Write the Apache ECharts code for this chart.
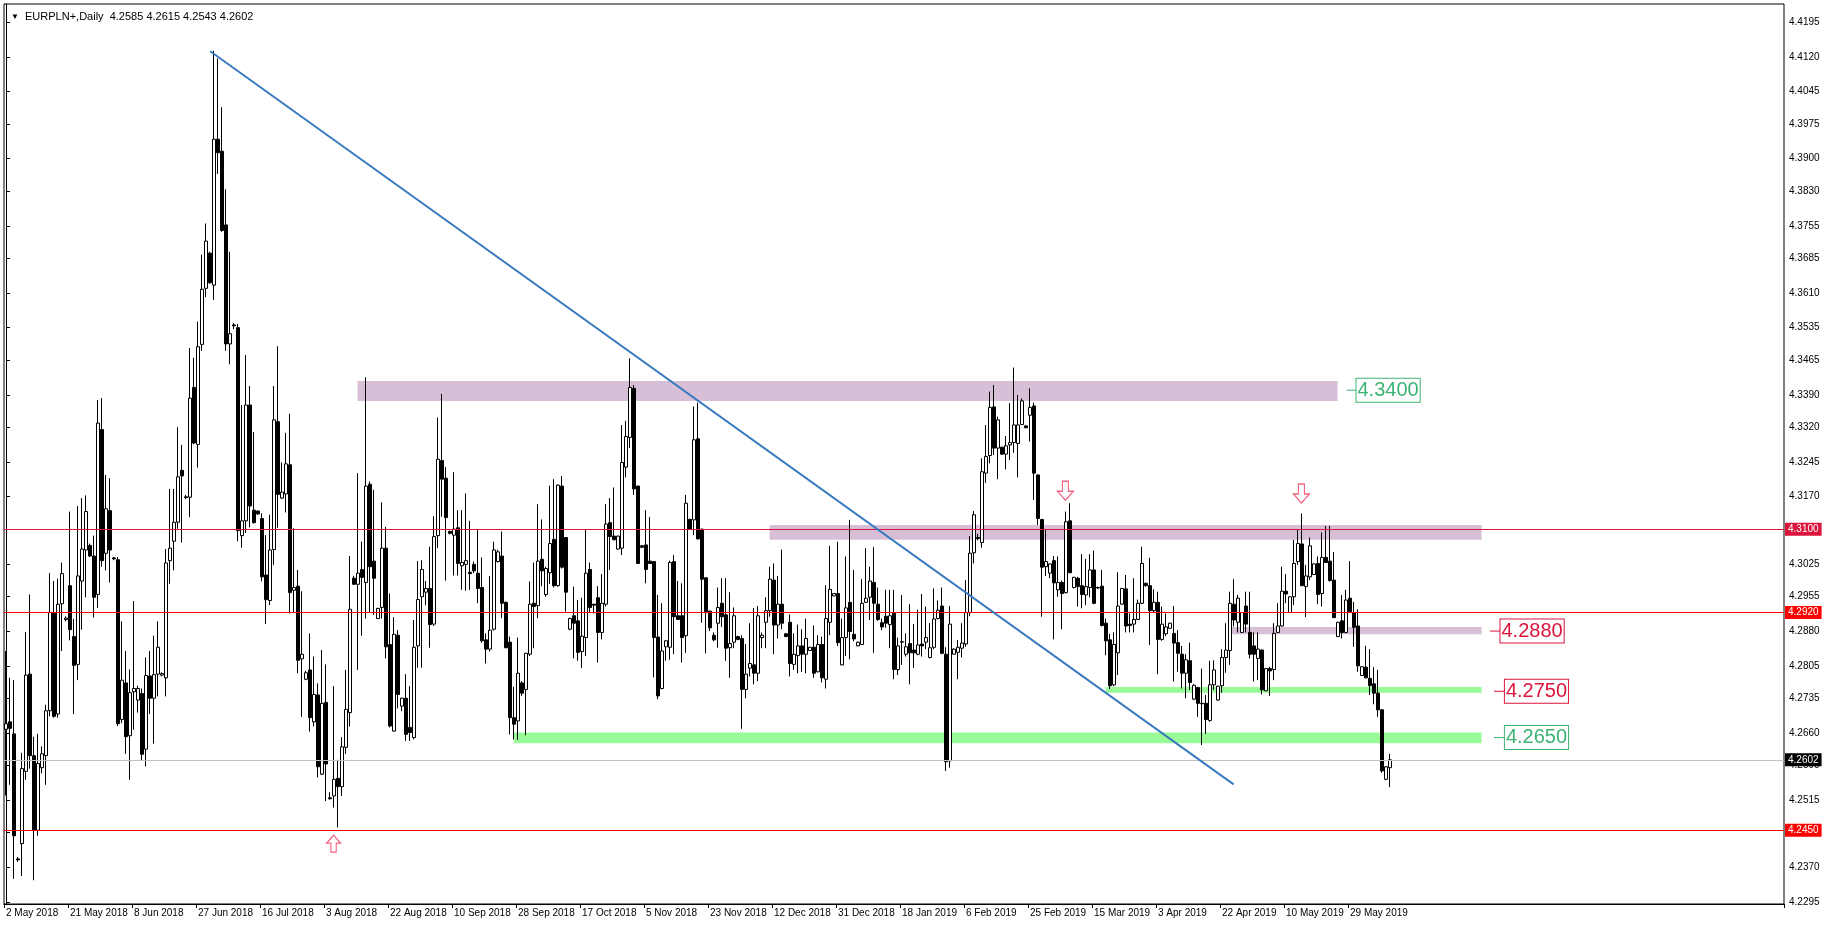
<!DOCTYPE html>
<html><head><meta charset="utf-8">
<script src="https://cdn.jsdelivr.net/npm/echarts@6/dist/echarts.min.js"></script>
<style>html,body{margin:0;padding:0;background:#fff}#c{width:1827px;height:927px}</style>
</head><body><div id="c"></div>
<script>
// ---------- DATA ----------
const symbolName = 'EURPLN+,Daily';
const firstDate = [2018, 5, 2]; // daily bars Sun-Fri
const open = [4.2668,4.2684,4.2658,4.2388,4.2421,4.2577,4.2787,4.2611,4.2450,4.2585,4.2611,4.2708,4.2918,4.2701,4.2939,4.2905,4.2978,4.2868,4.2808,4.2988,4.3055,4.3065,4.3042,4.2959,4.3315,4.3048,4.3140,4.3038,4.3034,4.2689,4.2768,4.2654,4.2749,4.2731,4.2745,4.2625,4.2783,4.2735,4.2787,4.2785,4.2779,4.3032,4.3074,4.3115,4.3227,4.3168,4.3169,4.3406,4.3283,4.3499,4.3620,4.3696,4.3627,4.3942,4.3916,4.3757,4.3500,4.3541,4.3535,4.3086,4.3118,4.3368,4.3141,4.3139,4.3123,4.3001,4.2946,4.3056,4.3332,4.3167,4.3176,4.3239,4.2968,4.2977,4.2820,4.2776,4.2796,4.2684,4.2742,4.2571,4.2726,4.2520,4.2524,4.2562,4.2544,4.2629,4.2704,4.2994,4.2981,4.3013,4.2985,4.3197,4.3031,4.2907,4.2931,4.3059,4.2851,4.2664,4.2871,4.2718,4.2735,4.2672,4.2650,4.2848,4.2954,4.2964,4.2972,4.2895,4.3086,4.3248,4.3210,4.3095,4.3087,4.3103,4.3021,4.3024,4.3007,4.3024,4.3005,4.2974,4.2861,4.2841,4.2884,4.3030,4.3042,4.2942,4.2856,4.2693,4.2686,4.2768,4.2754,4.2830,4.2940,4.2935,4.3035,4.2959,4.3006,4.3078,4.2978,4.3193,4.3082,4.2884,4.2913,4.2902,4.2836,4.2866,4.3013,4.2938,4.2952,4.2877,4.2938,4.3114,4.3085,4.3057,4.3059,4.3234,4.3298,4.3404,4.3193,4.3064,4.3066,4.3031,4.3030,4.2867,4.2756,4.2846,4.2845,4.3030,4.2913,4.2913,4.2870,4.3121,4.3120,4.3295,4.3100,4.2995,4.2923,4.2871,4.2897,4.2940,4.2915,4.2844,4.2856,4.2868,4.2864,4.2754,4.2800,4.2807,4.2789,4.2866,4.2899,4.2924,4.2990,4.2893,4.2938,4.2874,4.2899,4.2808,4.2827,4.2848,4.2830,4.2838,4.2845,4.2792,4.2851,4.2776,4.2899,4.2956,4.2961,4.2807,4.2866,4.2942,4.2873,4.2848,4.2851,4.2942,4.2953,4.2985,4.2938,4.2898,4.2912,4.2894,4.2918,4.2797,4.2856,4.2830,4.2853,4.2839,4.2830,4.2852,4.2856,4.2823,4.2845,4.2907,4.2934,4.2830,4.2600,4.2830,4.2834,4.2843,4.2852,4.2920,4.3049,4.3082,4.3071,4.3221,4.3259,4.3364,4.3275,4.3277,4.3262,4.3282,4.3287,4.3285,4.3326,4.3323,4.3346,4.3366,4.3217,4.3121,4.3019,4.3005,4.3032,4.2969,4.2985,4.2963,4.3118,4.2974,4.2994,4.2978,4.2958,4.2974,4.3012,4.2974,4.2977,4.2897,4.2861,4.2764,4.2833,4.2938,4.2971,4.2895,4.2895,4.2905,4.2940,4.2983,4.2978,4.2924,4.2942,4.2862,4.2874,4.2886,4.2875,4.2855,4.2830,4.2789,4.2816,4.2733,4.2758,4.2724,4.2724,4.2687,4.2764,4.2731,4.2762,4.2823,4.2838,4.2938,4.2899,4.2877,4.2934,4.2877,4.2848,4.2821,4.2839,4.2751,4.2799,4.2797,4.2877,4.2891,4.2966,4.2920,4.2954,4.3030,4.3068,4.2976,4.2997,4.3002,4.3026,4.2961,4.3039,4.3031,4.2990,4.2868,4.2902,4.2877,4.2951,4.2920,4.2891,4.2784,4.2802,4.2778,4.2766,4.2746,4.2710,4.2560,4.2585];
const high = [4.2837,4.2779,4.2774,4.2392,4.2617,4.2878,4.2959,4.2652,4.2658,4.2631,4.2721,4.3005,4.2988,4.2993,4.3028,4.2912,4.3138,4.2906,4.3150,4.3167,4.3173,4.3069,4.3086,4.3379,4.3383,4.3217,4.3210,4.3040,4.3040,4.2901,4.2837,4.2797,4.2945,4.2762,4.2756,4.2823,4.2837,4.2870,4.2901,4.2791,4.3057,4.3187,4.3187,4.3320,4.3282,4.3174,4.3491,4.3470,4.3548,4.3693,4.3760,4.3699,4.4133,4.4116,4.4011,4.3834,4.3699,4.3545,4.3543,4.3368,4.3476,4.3409,4.3310,4.3141,4.3134,4.3087,4.3131,4.3409,4.3495,4.3244,4.3308,4.3349,4.3102,4.3012,4.2966,4.2794,4.2875,4.2825,4.2767,4.2839,4.2808,4.2532,4.2761,4.2602,4.2651,4.2796,4.3042,4.2999,4.3221,4.3073,4.3428,4.3203,4.3185,4.2930,4.3158,4.3105,4.2961,4.2910,4.2882,4.2736,4.2787,4.2761,4.2904,4.3031,4.3033,4.2988,4.3062,4.3128,4.3341,4.3392,4.3234,4.3097,4.3223,4.3141,4.3141,4.3177,4.3118,4.3030,4.3100,4.3039,4.2875,4.2999,4.3073,4.3056,4.3095,4.2944,4.2868,4.2760,4.2866,4.2772,4.2833,4.2987,4.3028,4.3154,4.3121,4.3019,4.3194,4.3208,4.3197,4.3215,4.3083,4.2909,4.2976,4.2947,4.2952,4.3100,4.3028,4.2938,4.2977,4.3003,4.3154,4.3167,4.3190,4.3086,4.3325,4.3334,4.3469,4.3411,4.3194,4.3066,4.3141,4.3126,4.3031,4.2958,4.2940,4.2861,4.3032,4.3044,4.2988,4.2983,4.3174,4.3123,4.3365,4.3373,4.3101,4.2996,4.2924,4.2877,4.2974,4.2994,4.2994,4.2964,4.2931,4.2870,4.2871,4.2852,4.2897,4.2930,4.2934,4.2877,4.2953,4.3019,4.3026,4.2999,4.3056,4.2875,4.2916,4.2875,4.2894,4.2884,4.2907,4.2846,4.2892,4.2871,4.2868,4.2979,4.3064,4.2962,4.3073,4.2907,4.3041,4.3120,4.3012,4.2857,4.2992,4.3059,4.3019,4.3061,4.2974,4.2907,4.2969,4.2969,4.2969,4.2866,4.2958,4.2875,4.2938,4.2895,4.2926,4.2960,4.2933,4.2897,4.2972,4.2946,4.2974,4.2845,4.2934,4.2843,4.2861,4.2897,4.2990,4.3085,4.3139,4.3090,4.3253,4.3325,4.3397,4.3411,4.3343,4.3278,4.3301,4.3372,4.3449,4.3390,4.3382,4.3324,4.3404,4.3373,4.3218,4.3122,4.3098,4.3026,4.3042,4.3041,4.2989,4.3138,4.3156,4.2997,4.2997,4.3046,4.3036,4.3046,4.3054,4.2976,4.3012,4.2907,4.2874,4.2877,4.3007,4.2973,4.3001,4.2918,4.2994,4.2948,4.3062,4.2985,4.3038,4.2970,4.2965,4.2933,4.2918,4.2898,4.2934,4.2882,4.2848,4.2830,4.2855,4.2765,4.2760,4.2799,4.2742,4.2816,4.2817,4.2762,4.2841,4.2897,4.2965,4.2992,4.2958,4.2921,4.2965,4.2965,4.2877,4.2877,4.2840,4.2800,4.2803,4.2897,4.2940,4.3019,4.3003,4.2955,4.3077,4.3100,4.3134,4.3023,4.3082,4.3026,4.3041,4.3093,4.3107,4.3107,4.3051,4.2900,4.2958,4.2969,4.3031,4.2943,4.2927,4.2804,4.2848,4.2841,4.2802,4.2796,4.2711,4.2588,4.2615];
const low = [4.2525,4.2548,4.2345,4.2382,4.2351,4.2559,4.2583,4.2342,4.2438,4.2573,4.2548,4.2696,4.2693,4.2693,4.2837,4.2901,4.2860,4.2701,4.2774,4.2883,4.2953,4.3040,4.2909,4.2930,4.3019,4.3011,4.2985,4.3033,4.2675,4.2681,4.2615,4.2559,4.2667,4.2704,4.2600,4.2588,4.2701,4.2637,4.2739,4.2782,4.2739,4.2982,4.3011,4.3101,4.3071,4.3165,4.3126,4.3283,4.3233,4.3485,4.3601,4.3630,4.3595,4.3867,4.3742,4.3485,4.3456,4.3532,4.3074,4.3060,4.3092,4.3104,4.3112,4.3131,4.2987,4.2895,4.2936,4.3023,4.3103,4.3166,4.3136,4.2918,4.2920,4.2789,4.2695,4.2774,4.2663,4.2674,4.2564,4.2569,4.2513,4.2516,4.2499,4.2456,4.2524,4.2615,4.2674,4.2980,4.2796,4.2870,4.2907,4.2920,4.2915,4.2906,4.2907,4.2821,4.2672,4.2663,4.2713,4.2707,4.2643,4.2643,4.2646,4.2801,4.2801,4.2936,4.2844,4.2891,4.3059,4.3127,4.2989,4.3089,4.3000,4.3000,4.2969,4.2967,4.2969,4.3005,4.2940,4.2855,4.2810,4.2836,4.2881,4.3028,4.2908,4.2843,4.2657,4.2646,4.2645,4.2740,4.2655,4.2826,4.2843,4.2908,4.2977,4.2954,4.2982,4.2974,4.2976,4.3015,4.2922,4.2882,4.2821,4.2816,4.2800,4.2826,4.2920,4.2918,4.2812,4.2862,4.2933,4.3012,4.3077,4.3056,4.3044,4.3212,4.3275,4.3174,4.3025,4.3059,4.2983,4.3025,4.2780,4.2733,4.2754,4.2816,4.2818,4.2830,4.2904,4.2812,4.2833,4.3098,4.3087,4.3078,4.2898,4.2832,4.2880,4.2858,4.2844,4.2889,4.2816,4.2779,4.2843,4.2860,4.2669,4.2735,4.2782,4.2765,4.2772,4.2843,4.2843,4.2911,4.2830,4.2864,4.2884,4.2867,4.2782,4.2796,4.2789,4.2792,4.2789,4.2837,4.2779,4.2791,4.2769,4.2756,4.2871,4.2955,4.2848,4.2806,4.2826,4.2819,4.2858,4.2847,4.2850,4.2941,4.2904,4.2833,4.2902,4.2882,4.2887,4.2843,4.2776,4.2785,4.2807,4.2825,4.2765,4.2800,4.2828,4.2825,4.2841,4.2821,4.2841,4.2905,4.2830,4.2578,4.2585,4.2830,4.2776,4.2823,4.2846,4.2912,4.3026,4.3076,4.3060,4.3200,4.3242,4.3260,4.3208,4.3261,4.3229,4.3249,4.3265,4.3212,4.3325,4.3318,4.3289,4.3163,4.3109,4.2911,4.2999,4.2994,4.2862,4.2954,4.2884,4.2961,4.3005,4.2972,4.2933,4.2929,4.2936,4.2953,4.2938,4.2971,4.2890,4.2828,4.2755,4.2761,4.2785,4.2937,4.2877,4.2877,4.2877,4.2904,4.2938,4.2976,4.2850,4.2920,4.2787,4.2859,4.2869,4.2885,4.2771,4.2792,4.2756,4.2735,4.2753,4.2731,4.2695,4.2634,4.2658,4.2684,4.2753,4.2730,4.2747,4.2790,4.2807,4.2890,4.2877,4.2876,4.2877,4.2821,4.2771,4.2774,4.2743,4.2750,4.2740,4.2774,4.2875,4.2890,4.2940,4.2919,4.2936,4.3023,4.2977,4.2910,4.2990,4.3001,4.2938,4.2933,4.3027,4.2987,4.2908,4.2867,4.2864,4.2875,4.2921,4.2846,4.2792,4.2783,4.2778,4.2742,4.2722,4.2695,4.2574,4.2558,4.2543];
const close = [4.2680,4.2670,4.2438,4.2386,4.2583,4.2785,4.2611,4.2450,4.2594,4.2615,4.2708,4.2920,4.2696,4.2938,4.3004,4.2908,4.2883,4.2806,4.2999,4.3057,4.3138,4.3042,4.2953,4.3329,4.3032,4.3144,4.3055,4.3036,4.2680,4.2774,4.2652,4.2747,4.2756,4.2756,4.2614,4.2784,4.2735,4.2786,4.2845,4.2788,4.3027,4.3059,4.3115,4.3213,4.3215,4.3170,4.3383,4.3286,4.3494,4.3618,4.3722,4.3632,4.3942,4.3913,4.3745,4.3500,4.3522,4.3539,4.3097,4.3118,4.3368,4.3150,4.3114,4.3133,4.2997,4.2948,4.3055,4.3336,4.3175,4.3180,4.3241,4.2963,4.2974,4.2817,4.2830,4.2790,4.2693,4.2743,4.2587,4.2724,4.2593,4.2518,4.2560,4.2544,4.2630,4.2711,4.2927,4.2981,4.3005,4.2996,4.3193,4.3019,4.2994,4.2929,4.3059,4.2846,4.2675,4.2873,4.2743,4.2735,4.2657,4.2661,4.2845,4.2948,4.3013,4.2972,4.2894,4.3084,4.3251,4.3208,4.3125,4.3091,4.3100,4.3026,4.3028,4.3032,4.3004,4.3010,4.2972,4.2859,4.2841,4.2882,4.3055,4.3051,4.2940,4.2844,4.2693,4.2679,4.2789,4.2746,4.2832,4.2938,4.2933,4.3031,4.3010,4.3015,4.3069,4.2978,4.3195,4.3018,4.2964,4.2907,4.2897,4.2834,4.2869,4.3005,4.2931,4.2936,4.2877,4.2940,4.3111,4.3084,4.3077,4.3085,4.3244,4.3300,4.3406,4.3187,4.3026,4.3061,4.3013,4.3026,4.2866,4.2740,4.2837,4.2859,4.3028,4.2911,4.2905,4.2866,4.3156,4.3100,4.3293,4.3079,4.2992,4.2922,4.2887,4.2861,4.2931,4.2911,4.2843,4.2853,4.2913,4.2862,4.2754,4.2787,4.2810,4.2789,4.2913,4.2871,4.2924,4.2992,4.2893,4.2938,4.2897,4.2868,4.2810,4.2830,4.2848,4.2830,4.2864,4.2845,4.2789,4.2851,4.2779,4.2907,4.2970,4.2961,4.2855,4.2866,4.2930,4.2879,4.2863,4.2856,4.2940,4.2951,4.2988,4.2940,4.2905,4.2889,4.2897,4.2913,4.2797,4.2848,4.2857,4.2846,4.2833,4.2833,4.2850,4.2848,4.2866,4.2844,4.2906,4.2925,4.2832,4.2598,4.2895,4.2841,4.2845,4.2854,4.2920,4.3048,4.3131,4.3080,4.3224,4.3257,4.3363,4.3275,4.3336,4.3262,4.3280,4.3287,4.3325,4.3325,4.3377,4.3319,4.3363,4.3221,4.3123,4.3018,4.3030,4.3025,4.2984,4.2985,4.2961,4.3116,4.3006,4.2996,4.2976,4.2959,4.2976,4.3012,4.2940,4.2973,4.2892,4.2859,4.2762,4.2851,4.2934,4.2972,4.2891,4.2892,4.2905,4.2940,4.3026,4.2978,4.2924,4.2942,4.2862,4.2895,4.2889,4.2897,4.2854,4.2832,4.2789,4.2818,4.2769,4.2763,4.2724,4.2723,4.2689,4.2764,4.2796,4.2761,4.2823,4.2839,4.2940,4.2904,4.2951,4.2920,4.2895,4.2830,4.2830,4.2841,4.2753,4.2799,4.2794,4.2875,4.2891,4.2966,4.2960,4.2954,4.3026,4.3069,4.2978,4.2999,4.3064,4.3025,4.2959,4.3039,4.3028,4.2989,4.2909,4.2899,4.2877,4.2947,4.2922,4.2888,4.2805,4.2803,4.2779,4.2762,4.2746,4.2710,4.2578,4.2587,4.2602];

// price-axis tick labels (as printed on the chart)
const yTickLabels = [4.4195,4.4120,4.4045,4.3975,4.3900,4.3830,4.3755,4.3685,4.3610,4.3535,4.3465,4.3390,4.3320,4.3245,4.3170,4.3100,4.3025,4.2955,4.2880,4.2805,4.2735,4.2660,4.2590,4.2515,4.2445,4.2370,4.2295];

// horizontal price lines
const hLineValues = [4.3100, 4.2920, 4.2450];
const bidValue = 4.2602;

// zones: bar-index start/end, price top/bottom
const zoneStart = [87.9, 190.9, 305.5, 274.9, 127.0];
const zoneEnd   = [332.9, 368.9, 368.9, 368.9, 368.9];
const zoneTop   = [4.3420, 4.3109, 4.2889, 4.2759, 4.2661];
const zoneBottom= [4.3377, 4.3077, 4.2873, 4.2747, 4.2638];
const zoneKind  = ['purple','purple','purple','green','green'];

// trend line (bar index, price)
const trendX = [51.05, 306.9];
const trendY = [4.4132, 4.2549];

// level text labels
const levelValues = [4.3400, 4.2880, 4.2750, 4.2650];
const levelKind   = ['green','red','red','green'];
const levelTickFrom = [335.2, 371.0, 372.0, 372.0];
const levelBoxAt    = [337.5, 373.5, 374.6, 374.6];

// arrows (bar index, price)
const arrowDownX = [264.85, 323.85];
const arrowDownY = [4.3183, 4.3177];
const arrowUpX = [81.9];
const arrowUpY = [4.2421];

// ---------- BUILD ----------
const N = 445;
const MONTHS = ['Jan','Feb','Mar','Apr','May','Jun','Jul','Aug','Sep','Oct','Nov','Dec'];
const cats = [];
let d = new Date(Date.UTC(firstDate[0], firstDate[1]-1, firstDate[2]));
while (cats.length < open.length) {
  if (d.getUTCDay() !== 6) cats.push(d.getUTCDate() + ' ' + MONTHS[d.getUTCMonth()] + ' ' + d.getUTCFullYear());
  d = new Date(d.getTime() + 86400000);
}
for (let k = cats.length; k < N; k++) cats.push('_' + k);
const nBars = open.length;
const candles = open.map((o, i) => [o, close[i], low[i], high[i]]);
const showIdx = (idx) => idx < nBars && idx % 16 === 0;

const FONT = 'Liberation Sans, Arial, sans-serif';
const COL = { purple: '#d8bfd8', green: '#98fb98', red: '#dc143c', greenText: '#3cb371' };
const hLineColors = ['#dc143c', '#ff0000', '#ff0000'];
const last = nBars - 1;

const downPath = 'path://M5,0L11,0L11,10L16,10L8,19L0,10L5,10Z';
const upPath = 'path://M8,0L16,9L11,9L11,19L5,19L5,9L0,9Z';

const levelSeries = levelValues.map((v, k) => {
  const c = levelKind[k] === 'green' ? COL.greenText : COL.red;
  return {
    type: 'line', xAxisIndex: 1, yAxisIndex: 0, silent: true, z: 6, symbol: 'none',
    data: [[levelTickFrom[k], v], [levelBoxAt[k], v]],
    lineStyle: { color: c, width: 1 },
    markPoint: { silent: true, symbol: 'rect', symbolSize: 1, itemStyle: { color: 'rgba(0,0,0,0)' },
      data: [{ coord: [levelBoxAt[k], v],
        label: { show: true, position: 'right', distance: 0, formatter: v.toFixed(4), color: c,
          borderColor: c, borderWidth: 1, backgroundColor: '#fff', padding: [2, 1, 0, 1],
          fontSize: 20, lineHeight: 21, fontFamily: FONT } }] }
  };
});

const chart = echarts.init(document.getElementById('c'), null, { renderer: 'canvas' });
chart.setOption({
  animation: false,
  backgroundColor: '#fff',
  title: {
    text: '{t|▼}  ' + symbolName + '  ' + [open[last], high[last], low[last], close[last]].map(v => v.toFixed(4)).join(' '),
    left: 6, top: 6,
    textStyle: { fontSize: 11, fontWeight: 'normal', fontFamily: FONT, color: '#000',
      rich: { t: { fontSize: 8, color: '#000' } } }
  },
  grid: { left: 4, top: 4, width: 1780, height: 900, show: true, borderColor: '#000', borderWidth: 1, backgroundColor: '#fff' },
  xAxis: [
    { type: 'category', data: cats, boundaryGap: true,
      axisLine: { show: true, lineStyle: { color: '#000', width: 1 } },
      axisTick: { show: true, interval: showIdx, length: 4, lineStyle: { color: '#000' } },
      axisLabel: { interval: showIdx, align: 'left', fontSize: 10, fontFamily: FONT, color: '#000', margin: 4, hideOverlap: false },
      splitLine: { show: false } },
    { type: 'value', min: -0.5, max: N - 0.5, show: false, gridIndex: 0 }
  ],
  yAxis: {
    type: 'value', position: 'right', min: 4.22907, max: 4.42339, scale: true,
    splitLine: { show: false },
    axisLine: { show: true, lineStyle: { color: '#000' } },
    axisTick: { show: true, customValues: yTickLabels, length: 4, lineStyle: { color: '#000' } },
    axisLabel: { customValues: yTickLabels, formatter: v => Number(v).toFixed(4), fontSize: 10, fontFamily: FONT, color: '#000', margin: 5 }
  },
  series: [
    { type: 'line', xAxisIndex: 1, yAxisIndex: 0, data: [], silent: true, z: 1,
      markArea: { silent: true, z: 1,
        data: zoneStart.map((s, k) => [
          { coord: [s, zoneTop[k]], itemStyle: { color: COL[zoneKind[k]], opacity: 1, borderWidth: 0 } },
          { coord: [zoneEnd[k], zoneBottom[k]] }
        ]) } },
    { type: 'candlestick', xAxisIndex: 0, yAxisIndex: 0, data: candles, barWidth: 3, silent: true, z: 3,
      itemStyle: { color: '#fff', color0: '#000', borderColor: '#000', borderColor0: '#000', borderColorDoji: '#000', borderWidth: 1 } },
    { type: 'line', xAxisIndex: 1, yAxisIndex: 0, data: [], silent: true, z: 4,
      markLine: { silent: true, symbol: ['none', 'none'], animation: false, precision: 4,
        data: hLineValues.map((v, k) => ({ yAxis: v,
          lineStyle: { color: hLineColors[k], width: 1, type: 'solid' },
          label: { show: true, position: 'end', distance: 1, formatter: v.toFixed(4), color: '#fff',
            backgroundColor: hLineColors[k], padding: [2, 3, 1, 3], fontSize: 10, fontFamily: FONT } }))
          .concat([{ yAxis: bidValue, lineStyle: { color: '#c0c0c0', width: 1, type: 'solid' },
            label: { show: true, position: 'end', distance: 1, formatter: bidValue.toFixed(4), color: '#fff',
              backgroundColor: '#000', padding: [2, 3, 1, 3], fontSize: 10, fontFamily: FONT } }])
      } },
    { type: 'line', xAxisIndex: 1, yAxisIndex: 0, silent: true, z: 5, symbol: 'none',
      data: trendX.map((x, k) => [x, trendY[k]]),
      lineStyle: { color: '#3a7bbf', width: 2 } },
    ...levelSeries,
    { type: 'scatter', xAxisIndex: 1, yAxisIndex: 0, silent: true, z: 6, symbol: downPath, symbolSize: [16, 19],
      itemStyle: { color: '#fff', borderColor: '#ec3b5c', borderWidth: 1.2 },
      data: arrowDownX.map((x, k) => [x, arrowDownY[k]]) },
    { type: 'scatter', xAxisIndex: 1, yAxisIndex: 0, silent: true, z: 6, symbol: upPath, symbolSize: [14, 17],
      itemStyle: { color: '#fff', borderColor: '#ec3b5c', borderWidth: 1.2 },
      data: arrowUpX.map((x, k) => [x, arrowUpY[k]]) }
  ]
});
</script></body></html>
